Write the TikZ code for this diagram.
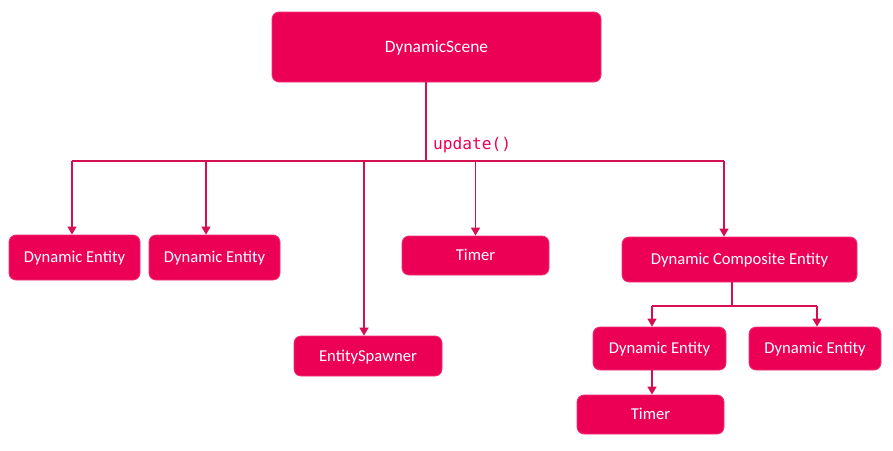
\documentclass[tikz,border=0pt]{standalone}
\usepackage{fontspec}
\setmainfont{Carlito}
\newfontfamily\codefont{DejaVu Sans Mono}
\usetikzlibrary{arrows.meta,calc}
\definecolor{pink}{HTML}{EC0055}
\definecolor{pinkline}{HTML}{D60F55}
\tikzset{
  box/.style={draw=pink!80!white, line width=0.8pt, fill=pink, rounded corners=7pt, text=white, font=\fontsize{16.6}{19}\selectfont, inner sep=0pt, anchor=center, text height=12.5pt, text depth=2pt},
  conn/.style={draw=pinkline, line width=1.4pt},
  arr/.style={conn, -{Triangle[width=9pt,length=8pt]}},
}
\begin{document}
\begin{tikzpicture}[x=1pt,y=-1pt]
\useasboundingbox (0,0) rectangle (893,450);
\node[box, minimum width=329pt, minimum height=70pt, font=\fontsize{17.4}{20}\selectfont] (scene) at (436.5,47) {DynamicScene};
\node[box, minimum width=131pt, minimum height=45pt] (de1) at (74.5,257.5) {Dynamic Entity};
\node[box, minimum width=131pt, minimum height=45pt] (de2) at (214.5,257.5) {Dynamic Entity};
\node[box, minimum width=147pt, minimum height=39pt] (timer) at (475.5,255.5) {Timer};
\node[box, minimum width=235pt, minimum height=45pt] (comp) at (739.5,259.5) {Dynamic Composite Entity};
\node[box, minimum width=148pt, minimum height=40pt] (spawn) at (368,356) {EntitySpawner};
\node[box, minimum width=133pt, minimum height=43pt] (sub1) at (659.5,348.5) {Dynamic Entity};
\node[box, minimum width=132pt, minimum height=43pt] (sub2) at (815,348.5) {Dynamic Entity};
\node[box, minimum width=147pt, minimum height=39pt] (subt) at (650.5,414.5) {Timer};

\coordinate (bus) at (426,161);
\coordinate (busL) at (72,161);
\coordinate (busR) at (724,161);
\draw[conn] ([xshift=-10.5pt]scene.south) -- (bus);
\draw[conn] (busL) -- (busR);
\node[anchor=south west, inner sep=0pt, text=pink, font=\codefont\fontsize{16.2}{18}\selectfont] (lbl) at (433,153) {update()};
\draw[arr] (busL) -- (busL |- de1.north);
\draw[arr] ([xshift=-8.5pt]de2.north |- bus) -- ([xshift=-8.5pt]de2.north);
\draw[arr] ([xshift=-4pt]spawn.north |- bus) -- ([xshift=-4pt]spawn.north);
\draw[arr] (timer.north |- bus) -- (timer.north);
\draw[arr] (busR) -- (busR |- comp.north);

\coordinate (cbus) at (732,306);
\draw[conn] ([xshift=-7.5pt]comp.south) -- (cbus);
\draw[conn] ([xshift=-7.5pt]sub1.north |- cbus) -- ([xshift=2pt]sub2.north |- cbus);
\draw[arr] ([xshift=-7.5pt]sub1.north |- cbus) -- ([xshift=-7.5pt]sub1.north);
\draw[arr] ([xshift=2pt]sub2.north |- cbus) -- ([xshift=2pt]sub2.north);
\draw[arr] ([xshift=-7.5pt]sub1.south) -- ([xshift=-7.5pt]sub1.south |- subt.north);
\end{tikzpicture}
\end{document}
